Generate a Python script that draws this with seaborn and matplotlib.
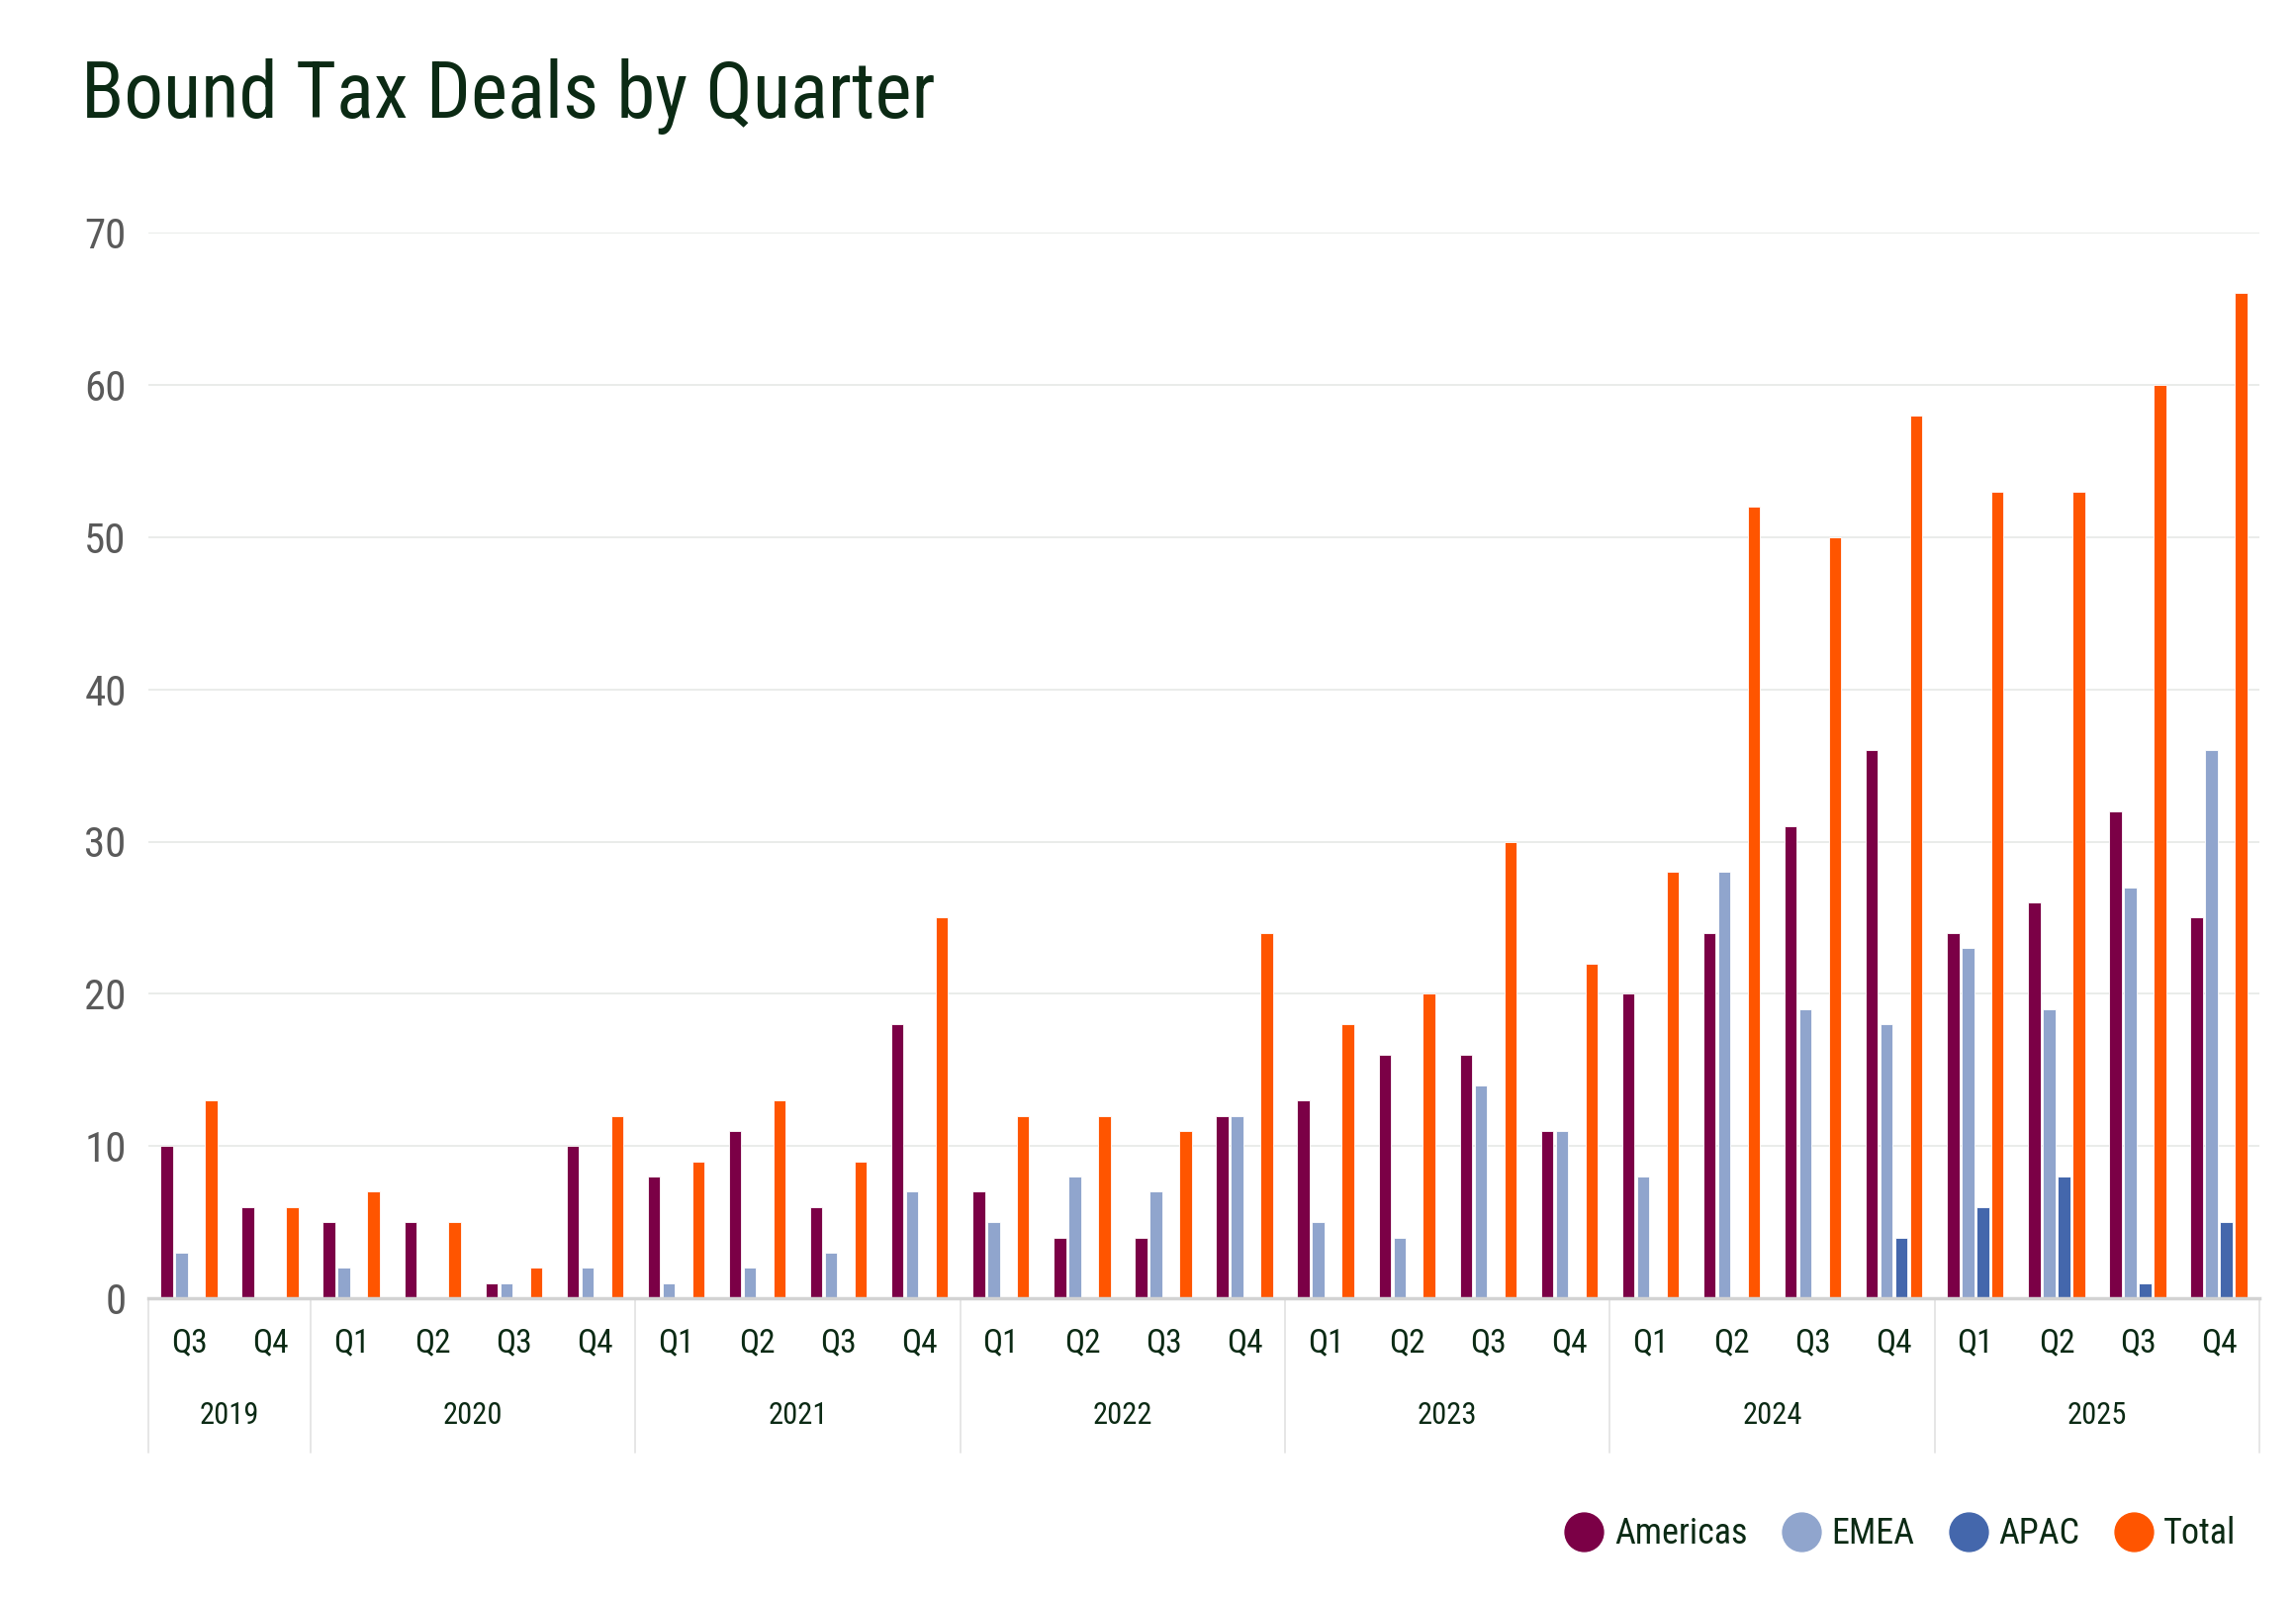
import matplotlib
matplotlib.use("Agg")
import matplotlib.pyplot as plt
from matplotlib import font_manager
from matplotlib.lines import Line2D
import pandas as pd
import seaborn as sns

# ------------------------------
# Data
# ------------------------------
years = ["2019"] * 2 + ["2020"] * 4 + ["2021"] * 4 + ["2022"] * 4 + ["2023"] * 4 + ["2024"] * 4 + ["2025"] * 4
quarters = ["Q3", "Q4"] + ["Q1", "Q2", "Q3", "Q4"] * 6

americas = [10, 6, 5, 5, 1, 10, 8, 11, 6, 18, 7, 4, 4, 12, 13, 16, 16, 11, 20, 24, 31, 36, 24, 26, 32, 25]
emea = [3, 0, 2, 0, 1, 2, 1, 2, 3, 7, 5, 8, 7, 12, 5, 4, 14, 11, 8, 28, 19, 18, 23, 19, 27, 36]
apac = [0, 0, 0, 0, 0, 0, 0, 0, 0, 0, 0, 0, 0, 0, 0, 0, 0, 0, 0, 0, 0, 4, 6, 8, 1, 5]
total = [13, 6, 7, 5, 2, 12, 9, 13, 9, 25, 12, 12, 11, 24, 18, 20, 30, 22, 28, 52, 50, 58, 53, 53, 60, 66]

regions = ["Americas", "EMEA", "APAC", "Total"]
colors = {"Americas": "#7B0046", "EMEA": "#90A5CD", "APAC": "#4467AC", "Total": "#FF5500"}

# ------------------------------
# Long-form table for seaborn
# ------------------------------
labels = [f"{y} {q}" for y, q in zip(years, quarters)]
rows = []
for name, vals in zip(regions, [americas, emea, apac, total]):
    for lab, v in zip(labels, vals):
        rows.append({"period": lab, "region": name, "deals": v})
df = pd.DataFrame(rows)

# ------------------------------
# Fonts
# ------------------------------
sns.set_style("white")
installed = {f.name for f in font_manager.fontManager.ttflist}
cond = "Roboto"
for cand in ["Roboto Condensed", "Liberation Sans Narrow", "Open Sans Condensed", "Roboto"]:
    if cand in installed:
        cond = cand
        break
plt.rcParams["font.family"] = [cond, "DejaVu Sans"]

dark = "#0B2A14"
grey = "#5A5A5A"

# ------------------------------
# Plot
# ------------------------------
fig = plt.figure(figsize=(23.21, 16.2), dpi=100)
ax = fig.add_axes([0.0646, 0.190, 0.9195, 0.665])

sns.barplot(data=df, x="period", y="deals", hue="region", order=labels,
            hue_order=regions, palette=colors, saturation=1, width=0.73, gap=0.17,
            edgecolor="white", linewidth=0.6, legend=False, ax=ax)

ax.set_xlim(-0.5, len(labels) - 0.5)
ax.set_ylim(0, 70)
ax.set_yticks(range(0, 71, 10))
ax.yaxis.grid(True, color="#E6E9E6", linewidth=1.2)
ax.set_axisbelow(True)
for s in ["top", "right", "left"]:
    ax.spines[s].set_visible(False)
ax.spines["bottom"].set_color("#D3D3D3")
ax.spines["bottom"].set_linewidth(2.5)

ax.set_xticks(range(len(labels)))
ax.set_xticklabels(quarters)
ax.tick_params(axis="x", length=0, pad=21, labelsize=24, labelcolor=dark)
ax.tick_params(axis="y", length=0, pad=16, labelsize=31, labelcolor=grey)
ax.set_xlabel("")
ax.set_ylabel("")

# year separators and labels under the quarter labels
trans = ax.get_xaxis_transform()
bounds = [-0.5]
start = 0
for i in range(1, len(years) + 1):
    if i == len(years) or years[i] != years[start]:
        ax.text((start + i - 1) / 2, -0.11, years[start], transform=trans,
                ha="center", va="center", fontsize=22, color=dark)
        bounds.append(i - 0.5)
        start = i
for b in bounds:
    ax.plot([b, b], [0, -0.145], transform=trans, color="#E2E2E2",
            linewidth=1.2, clip_on=False)

# title
fig.text(0.0355, 0.94, "Bound Tax Deals by Quarter", fontsize=57,
         color=dark, ha="left", va="center")

# legend
handles = [Line2D([0], [0], marker="o", linestyle="", markersize=28,
                  markerfacecolor=colors[r], markeredgecolor=colors[r], label=r)
           for r in regions]
fig.legend(handles=handles, loc="center right", bbox_to_anchor=(0.988, 0.043),
           ncol=4, frameon=False, handlelength=1.1, handletextpad=0.3,
           columnspacing=0.95, labelcolor=dark, prop={"size": 26})

fig.savefig("out.png", dpi=100, facecolor="white")
